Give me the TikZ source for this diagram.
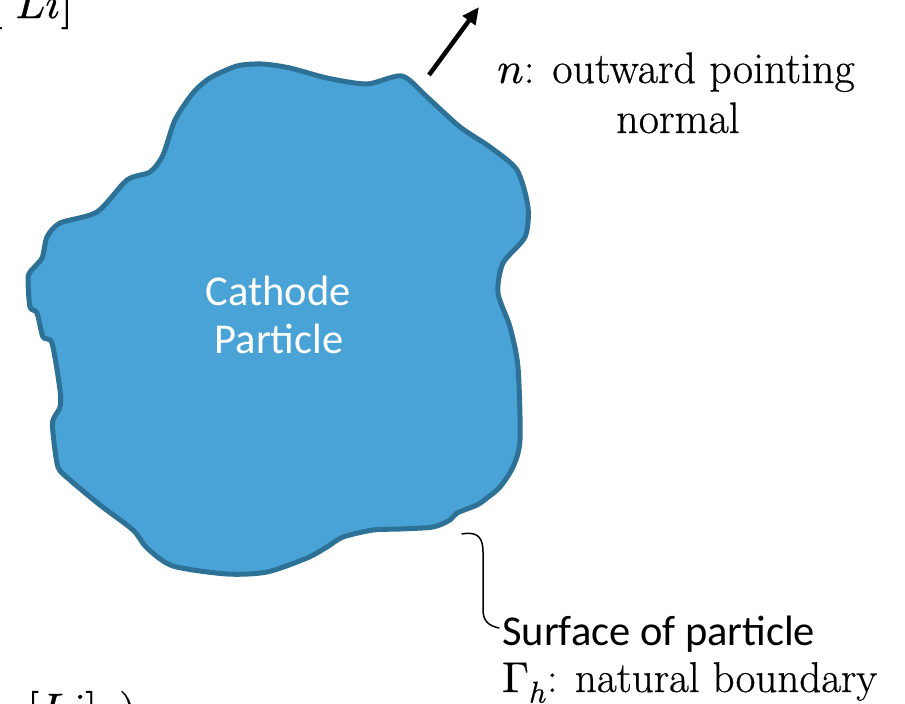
\documentclass[tikz,border=0pt]{standalone}
\usepackage{fontspec}
\usepackage{unicode-math}
\setmathfont{Latin Modern Math}[FakeBold=0.6]
\newfontfamily\calib{Carlito}
\newfontfamily\heavyserif{Latin Modern Roman}[FakeBold=0.6]
\usetikzlibrary{arrows.meta}
\definecolor{blobfill}{RGB}{74,163,214}
\definecolor{blobline}{RGB}{46,113,150}
\tikzset{
  serifbig/.style={font=\heavyserif\fontsize{44}{50}\selectfont, inner sep=0pt},
  sansbig/.style={font=\calib\fontsize{42.5}{50}\selectfont, inner sep=0pt},
  particle/.style={fill=blobfill, draw=blobline, line width=5pt, line join=round},
  normalarrow/.style={line width=4.5pt, -{Triangle[length=17pt,width=15pt]}},
  leader/.style={line width=1.5pt, line cap=round}
}
\begin{document}
\begin{tikzpicture}[x=1pt,y=-1pt]
\useasboundingbox (0,0) rectangle (905,704);
% particle outline
\draw[particle] plot[smooth cycle, tension=0.45] coordinates {
 (237,66) (262,64) (290,68) (327,78) (367,84) (402,76) (427,97) (460,127)
 (490,147) (517,170) (528,207) (525,237) (503,263) (498,293) (510,327)
 (518,367) (520,440) (513,467) (500,487) (487,498) (477,505) (457,513)
 (450,520) (433,527) (400,529) (373,530) (343,537) (327,547) (307,558)
 (267,572) (227,574) (173,566) (147,548) (133,530) (100,505) (70,480)
 (58,467) (53,433) (53,420) (60,407) (60,390) (52,343) (43,337) (37,313)
 (30,307) (28,280) (30,272) (42,258) (47,237) (60,223) (97,212) (127,180)
 (150,172) (163,155) (175,120) (193,93) (210,78)};
% labels inside
\node[sansbig, text=white, anchor=base] (cath1) at (278,305) {Cathode};
\node[sansbig, text=white, anchor=base] (cath2) at (279,353) {Particle};
% normal arrow
\coordinate (nbase) at (429,75);
\coordinate (ntip) at (479,7);
\draw[normalarrow] (nbase) -- (ntip);
\node[serifbig, anchor=base] (nlab1) at (676,83) {$n$: outward pointing};
\node[serifbig, anchor=base] (nlab2) at (678,133) {normal};
% surface leader
\coordinate (ls) at (462,534);
\coordinate (le) at (499,628);
\draw[leader] (ls) .. controls (478,531) and (483,538) .. (483,552)
  -- (483,610) .. controls (483,622) and (490,626) .. (le);
\node[sansbig, anchor=base west] (surf) at (502,645) {Surface of particle};
\node[serifbig, font=\heavyserif\fontsize{43}{50}\selectfont, anchor=base west] (gam) at (502,692) {$\Gamma_h$: natural boundary};
% cut-off texts at the edges
\node[serifbig, anchor=base east] (litop) at (73,18) {$[\mkern5mu Li]$};
\node[serifbig, anchor=base west] (libot) at (27,724) {$[Li]\hspace{22pt})$};
\end{tikzpicture}
\end{document}
